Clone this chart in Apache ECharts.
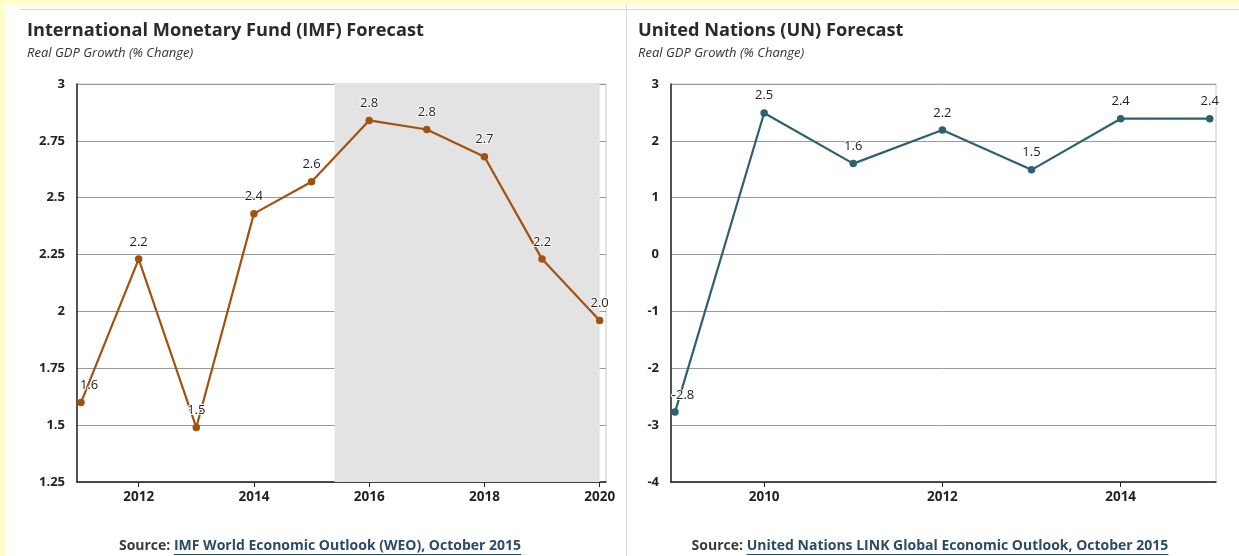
<!DOCTYPE html>
<html>
<head>
<meta charset="utf-8">
<script src="https://cdn.jsdelivr.net/npm/echarts@6/dist/echarts.min.js"></script>
<style>
html,body{margin:0;padding:0;background:#ffffcc;}
#c{width:1239px;height:556px;}
</style>
</head>
<body>
<div id="c"></div>
<script>
// ---- Data ----
const imfYears = [2011, 2012, 2013, 2014, 2015, 2016, 2017, 2018, 2019, 2020];
const imfValues = [1.60, 2.23, 1.49, 2.43, 2.57, 2.84, 2.80, 2.68, 2.23, 1.96];
const imfXTicks = [2012, 2014, 2016, 2018, 2020];
const imfForecastBand = [2015.4, 2020];

const unYears = [2009, 2010, 2011, 2012, 2013, 2014, 2015];
const unValues = [-2.77, 2.49, 1.60, 2.19, 1.49, 2.39, 2.39];
const unXTicks = [2010, 2012, 2014];

const titles = ['International Monetary Fund (IMF) Forecast', 'United Nations (UN) Forecast'];
const subtitle = 'Real GDP Growth (% Change)';
const sources = ['IMF World Economic Outlook (WEO), October 2015', 'United Nations LINK Global Economic Outlook, October 2015'];

// ---- Styles ----
const FONT = "'Open Sans', 'Noto Sans', sans-serif";
const imfColor = '#a2520f';
const unColor = '#2d6170';

function measure(text, font) {
  const ctx = document.createElement('canvas').getContext('2d');
  ctx.font = font;
  return ctx.measureText(text).width;
}

function pairs(xs, ys) { return xs.map((x, i) => [x, ys[i]]); }

function xAxisCfg(gridIndex, min, max, ticks) {
  return {
    type: 'value', gridIndex, min, max,
    axisLine: { show: true, onZero: false, lineStyle: { color: '#222', width: 1.5 } },
    axisTick: { show: true, customValues: ticks, length: 5, lineStyle: { color: '#222' } },
    axisLabel: { customValues: ticks, color: '#222', fontWeight: 'bold', fontSize: 13.5, fontFamily: FONT, margin: 8,
      formatter: v => String(v) },
    splitLine: { show: false }
  };
}
function yAxisCfg(gridIndex, min, max, interval) {
  return {
    type: 'value', gridIndex, min, max, interval,
    axisLine: { show: true, lineStyle: { color: '#222', width: 1.5 } },
    axisTick: { show: false },
    axisLabel: { color: '#222', fontWeight: 'bold', fontSize: 13, fontFamily: FONT, margin: 12 },
    splitLine: { show: true, lineStyle: { color: '#9a9a9a', width: 1 } }
  };
}
function labelCfg() {
  return { show: true, position: 'top', distance: 7, color: '#222', fontSize: 13, fontFamily: FONT,
    textBorderColor: '#fff', textBorderWidth: 2, formatter: p => p.value[1].toFixed(1) };
}
function seriesData(xs, ys) {
  return pairs(xs, ys).map((d, i) => i === 0 ? { value: d, label: { offset: [8, 0] } } : { value: d });
}

const srcFont = "bold 14px " + FONT;
const srcPrefix = 'Source: ';
const srcCenters = [320, 930];
const srcY = 546;
const titleFont = "bold 18.2px " + FONT;
const subFont = "italic 13px " + FONT;
const graphics = [
  { type: 'rect', shape: { x: 0, y: 0, width: 1239, height: 5 }, style: { fill: '#ffffcc' }, silent: true },
  { type: 'rect', shape: { x: 0, y: 0, width: 5, height: 556 }, style: { fill: '#ffffcc' }, silent: true },
  { type: 'line', shape: { x1: 19, y1: 9.5, x2: 1239, y2: 9.5 }, style: { stroke: '#d8d8d8', lineWidth: 1 }, silent: true },
  { type: 'line', shape: { x1: 626.5, y1: 5, x2: 626.5, y2: 556 }, style: { stroke: '#dcdcdc', lineWidth: 1 }, silent: true },
  { type: 'text', x: 27, y: 31, style: { text: titles[0], font: titleFont, fill: '#2a2a2a', verticalAlign: 'middle' } },
  { type: 'text', x: 27, y: 53, style: { text: subtitle, font: subFont, fill: '#333', verticalAlign: 'middle' } },
  { type: 'text', x: 638, y: 31, style: { text: titles[1], font: titleFont, fill: '#2a2a2a', verticalAlign: 'middle' } },
  { type: 'text', x: 638, y: 53, style: { text: subtitle, font: subFont, fill: '#333', verticalAlign: 'middle' } }
];
sources.forEach((s, i) => {
  const wp = measure(srcPrefix, srcFont);
  const wl = measure(s, srcFont);
  const x0 = srcCenters[i] - (wp + wl) / 2;
  graphics.push({ type: 'text', x: x0, y: srcY, style: { text: srcPrefix, font: srcFont, fill: '#3a3a3a', verticalAlign: 'middle' } });
  graphics.push({ type: 'text', x: x0 + wp, y: srcY, style: { text: s, font: srcFont, fill: '#2b4a68', verticalAlign: 'middle' } });
  graphics.push({ type: 'line', shape: { x1: x0 + wp, y1: srcY + 8.5, x2: x0 + wp + wl, y2: srcY + 8.5 }, style: { stroke: '#2b4a68', lineWidth: 1 } });
});

const chart = echarts.init(document.getElementById('c'), null, { renderer: 'canvas' });
chart.setOption({
  backgroundColor: '#fff',
  animation: false,
  graphic: graphics,
  grid: [
    { left: 77, right: 633, top: 84, bottom: 74, show: true, borderColor: '#c8c8c8', borderWidth: 1, backgroundColor: 'transparent' },
    { left: 671, right: 23, top: 84, bottom: 74, show: true, borderColor: '#c8c8c8', borderWidth: 1, backgroundColor: 'transparent' }
  ],
  xAxis: [ xAxisCfg(0, 2010.93, 2020.11, imfXTicks), xAxisCfg(1, 2008.955, 2015.07, unXTicks) ],
  yAxis: [ yAxisCfg(0, 1.25, 3, 0.25), yAxisCfg(1, -4, 3, 1) ],
  series: [
    {
      type: 'line', xAxisIndex: 0, yAxisIndex: 0, data: seriesData(imfYears, imfValues),
      lineStyle: { color: imfColor, width: 2.2 }, itemStyle: { color: imfColor },
      symbol: 'circle', symbolSize: 7.5, label: labelCfg(), z: 3,
      markArea: { silent: true, itemStyle: { color: '#e3e3e3' }, data: [[{ xAxis: imfForecastBand[0] }, { xAxis: imfForecastBand[1] }]] }
    },
    {
      type: 'line', xAxisIndex: 1, yAxisIndex: 1, data: seriesData(unYears, unValues),
      lineStyle: { color: unColor, width: 2.2 }, itemStyle: { color: unColor },
      symbol: 'circle', symbolSize: 7.5, label: labelCfg(), z: 3
    }
  ]
});
</script>
</body>
</html>
